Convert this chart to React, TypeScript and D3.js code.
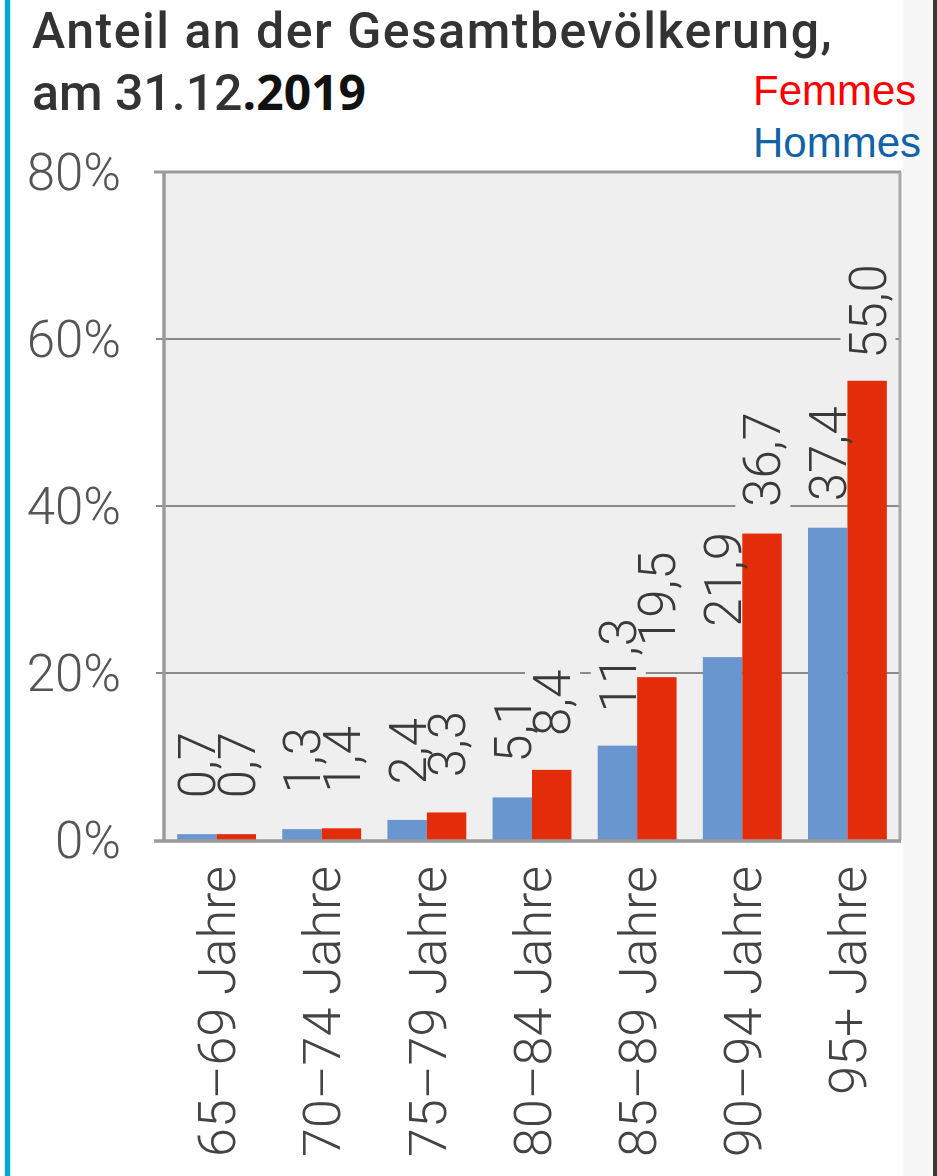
import React, { useRef, useEffect } from "react";
import * as d3 from "d3";

const categories = ["65–69 Jahre", "70–74 Jahre", "75–79 Jahre", "80–84 Jahre", "85–89 Jahre", "90–94 Jahre", "95+ Jahre"];
const hommes = [0.7, 1.3, 2.4, 5.1, 11.3, 21.9, 37.4];
const femmes = [0.7, 1.4, 3.3, 8.4, 19.5, 36.7, 55.0];
const yTicks = [0, 20, 40, 60, 80];
const seriesNames = ["Hommes", "Femmes"];
const seriesColors = ["#6a96cf", "#e32d0a"];

export default function App() {
  const svgRef = useRef<SVGSVGElement>(null);

  useEffect(() => {
    document.body.style.margin = "0";
    const svg = d3.select(svgRef.current);
    svg.selectAll("*").remove();

    const width = 937;
    const height = 1176;
    const left = 164, right = 900, top = 172, bottom = 840;

    svg.attr("width", width).attr("height", height);

    // page decorations
    svg.append("rect").attr("x", 0).attr("y", 0).attr("width", width).attr("height", height).attr("fill", "#fff");
    svg.append("rect").attr("x", 903).attr("y", 0).attr("width", 30).attr("height", height).attr("fill", "#f7f7f7");
    svg.append("rect").attr("x", 933).attr("y", 0).attr("width", 4).attr("height", height).attr("fill", "#3a3a3a");
    svg.append("rect").attr("x", 4).attr("y", 0).attr("width", 7).attr("height", height).attr("fill", "#cdeefa");
    svg.append("rect").attr("x", 5).attr("y", 0).attr("width", 5).attr("height", height).attr("fill", "#00a7db");

    // scales
    const x = d3.scaleBand<string>()
      .domain(categories)
      .range([left, right])
      .paddingInner(0.25)
      .paddingOuter(0.125);
    const xSub = d3.scaleBand<string>()
      .domain(seriesNames)
      .range([0, x.bandwidth()]);
    const y = d3.scaleLinear().domain([0, 80]).range([bottom, top]);
    const labelGap = d3.scaleLinear().domain([0, 55]).range([36, 22]);
    const fmt = (v: number) => d3.format(".1f")(v).replace(".", ",");

    // plot background
    svg.append("rect")
      .attr("x", left).attr("y", top)
      .attr("width", right - left).attr("height", bottom - top)
      .attr("fill", "#efefef");

    // gridlines + ticks
    svg.append("g")
      .selectAll("line")
      .data(yTicks.filter(t => t > 0 && t < 80))
      .join("line")
      .attr("x1", 156).attr("x2", right)
      .attr("y1", d => y(d)).attr("y2", d => y(d))
      .attr("stroke", "#8a8a8a").attr("stroke-width", 2);

    // label backgrounds knock out the gridlines (filled in below)
    const bgG = svg.append("g");

    // frame
    svg.append("line").attr("x1", 154).attr("x2", right + 1).attr("y1", top).attr("y2", top)
      .attr("stroke", "#9a9a9a").attr("stroke-width", 3);
    svg.append("line").attr("x1", right).attr("x2", right).attr("y1", top).attr("y2", bottom)
      .attr("stroke", "#a8a8a8").attr("stroke-width", 3);

    // bars
    const series = [hommes, femmes];
    const groups = svg.append("g")
      .selectAll("g")
      .data(categories)
      .join("g")
      .attr("transform", d => `translate(${x(d)},0)`);
    groups.selectAll("rect")
      .data((_, i) => seriesNames.map((s, k) => ({ s, k, v: series[k][i] })))
      .join("rect")
      .attr("x", d => xSub(d.s)!)
      .attr("y", d => y(d.v))
      .attr("width", xSub.bandwidth())
      .attr("height", d => bottom - y(d.v))
      .attr("fill", d => seriesColors[d.k]);

    svg.append("line").attr("x1", left).attr("x2", left).attr("y1", top).attr("y2", bottom)
      .attr("stroke", "#9a9a9a").attr("stroke-width", 3.5);
    svg.append("line").attr("x1", 154).attr("x2", right + 1).attr("y1", bottom + 1).attr("y2", bottom + 1)
      .attr("stroke", "#9a9a9a").attr("stroke-width", 3.5);

    // value labels
    const labelData: { cx: number; v: number }[] = [];
    categories.forEach((c, i) => {
      seriesNames.forEach((s, k) => {
        labelData.push({ cx: x(c)! + xSub(s)! + xSub.bandwidth() / 2, v: series[k][i] });
      });
    });
    const lblG = svg.append("g");
    lblG.selectAll("text")
      .data(labelData)
      .join("text")
      .attr("transform", d => `translate(${d.cx},${y(d.v) - labelGap(d.v)}) rotate(-90)`)
      .attr("dy", "0.36em")
      .attr("font-family", "Roboto, sans-serif")
      .attr("font-weight", 300)
      .attr("font-size", 51)
      .attr("fill", "#3a3a3a")
      .text(d => fmt(d.v))
      .each(function (d) {
        const b = (this as SVGTextElement).getBBox();
        bgG.append("rect")
          .attr("transform", `translate(${d.cx},${y(d.v) - labelGap(d.v)}) rotate(-90)`)
          .attr("x", b.x - 2)
          .attr("y", b.y + 2)
          .attr("width", b.width + 4)
          .attr("height", b.height - 4)
          .attr("fill", "#efefef");
      });

    // y axis labels
    svg.append("g")
      .selectAll("text")
      .data(yTicks)
      .join("text")
      .attr("x", 121)
      .attr("y", d => y(d))
      .attr("dy", "0.36em")
      .attr("text-anchor", "end")
      .attr("font-family", "Roboto, sans-serif")
      .attr("font-weight", 300)
      .attr("font-size", 51)
      .attr("fill", "#555")
      .text(d => `${d}%`);

    // category labels
    svg.append("g")
      .selectAll("text")
      .data(categories)
      .join("text")
      .attr("transform", d => `translate(${x(d)! + x.bandwidth() / 2},866) rotate(-90)`)
      .attr("dy", "0.36em")
      .attr("text-anchor", "end")
      .attr("font-family", "Roboto, sans-serif")
      .attr("font-weight", 300)
      .attr("font-size", 52)
      .attr("fill", "#444")
      .text(d => d);

    // title
    const title = svg.append("text")
      .attr("font-family", "Roboto, sans-serif")
      .attr("font-weight", 500)
      .attr("font-size", 50)
      .attr("fill", "#333");
    title.append("tspan").attr("x", 32).attr("y", 48).attr("letter-spacing", 1.5).text("Anteil an der Gesamtbevölkerung,");
    title.append("tspan").attr("x", 32).attr("y", 110).attr("letter-spacing", 0).text("am 31.12");
    title.append("tspan")
      .attr("font-family", "'Open Sans', sans-serif")
      .attr("font-weight", 700)
      .attr("font-size", 48)
      .attr("fill", "#111")
      .text(".2019");

    // legend
    const legend = svg.append("g")
      .attr("font-family", "'Liberation Sans', Arial, sans-serif")
      .attr("font-size", 42);
    legend.append("text").attr("x", 753).attr("y", 105).attr("fill", "#ff0000").text("Femmes");
    legend.append("text").attr("x", 753).attr("y", 157).attr("fill", "#1163a8").text("Hommes");
  }, []);

  return <svg ref={svgRef} style={{ display: "block" }}></svg>;
}
